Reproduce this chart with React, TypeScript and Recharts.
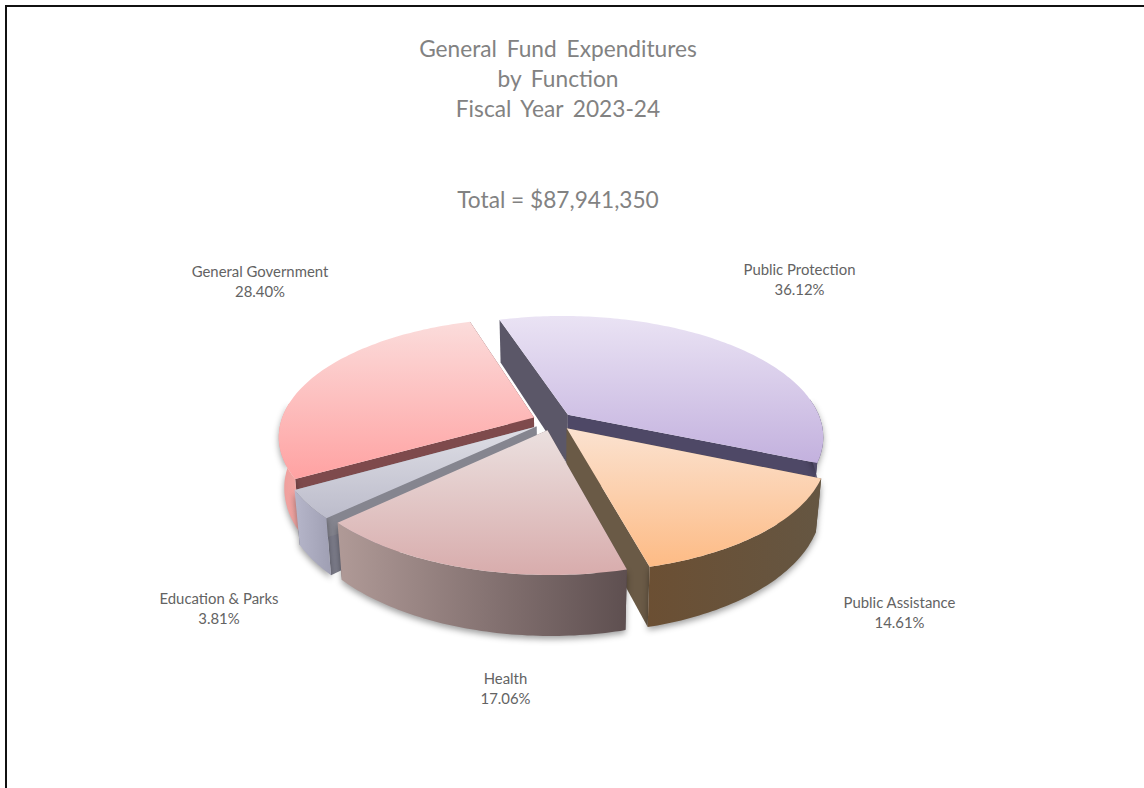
import React from "react";
import { PieChart, Pie } from "recharts";

// Drawn back to front: General Government, Public Protection, Public Assistance, Health, Education & Parks
const categories = ["General Government", "Public Protection", "Public Assistance", "Health", "Education & Parks"];
const shares = [28.4, 36.12, 14.61, 17.06, 3.81];
const shareLabels = ["28.40%", "36.12%", "14.61%", "17.06%", "3.81%"];
const titleLines = ["General Fund Expenditures", "by Function", "Fiscal Year 2023-24"];
const totalLine = "Total = $87,941,350";

const data = categories.map((name, i) => ({ name, value: shares[i], shareLabel: shareLabels[i] }));

const W = 1144, H = 788;
const CX = 553, CY = 421, R = 253;
const START = 90 - (-17 + 130.03 + 52.6 + 61.42 + 13.72); // clockwise from General Government's first edge
const TILT = 0.463, PERSP = 0.167, DEPTH = 50, BOTTOM_SCALE = 0.98, EXPLODE = 0.081, SHEAR = 0.015;
const FONT = "Lato, 'Open Sans', sans-serif";

const looks: Record<string, any> = {
  "General Government": { top: ["#FBDCDB", "#FFA2A2"], band: ["#EE9C9A", "#F3A9A6"], side0: "#7E4A4C", side1: "#7E4A4C" },
  "Public Protection": { top: ["#EAE3F4", "#C3B1DE"], band: ["#5A5470", "#4E4866"], side0: "#5B5768", side1: "#4E4866" },
  "Public Assistance": { top: ["#FBE2D0", "#FDBB85"], band: ["#6B4F33", "#655642"], side0: "#6A5A46", side1: "#6A5A46" },
  "Health": { top: ["#EBE0DF", "#D8ACAC"], band: ["#B09A97", "#5E4F50"], side0: "#5E4F50", side1: "#8A7070" },
  "Education & Parks": { top: ["#DEDEE5", "#BCBCCB"], band: ["#B6B6CA", "#9F9FB3"], side0: "#7C7C8A", side1: "#85858F" },
};

const labelCentres: Record<string, [number, number]> = {
  "General Government": [260, 273],
  "Public Protection": [799.5, 271],
  "Public Assistance": [899.5, 604],
  "Health": [505.5, 680],
  "Education & Parks": [219, 600],
};

const rad = (d: number) => (d * Math.PI) / 180;

// Projects a point of the tilted disc; (u, v) are in radius units, z is 0 on top and 1 at the base.
function project(cx: number, cy: number, r: number, u: number, v: number, z: number): [number, number] {
  const w = 1 - PERSP * v;
  const scale = z ? BOTTOM_SCALE : 1;
  return [cx + ((r * (u + SHEAR * v)) / w) * scale, cy + (r * TILT * v) / w + (z * DEPTH) / w];
}

function geometry(p: any) {
  const { cx, cy, outerRadius: r, startAngle, endAngle, midAngle } = p;
  const ou = EXPLODE * Math.cos(rad(midAngle));
  const ov = -EXPLODE * Math.sin(rad(midAngle));
  // minV drops the far part of the rim, which the top face hides anyway
  const arc = (z: number, minV = -Infinity) => {
    const pts: [number, number][] = [];
    const n = Math.max(8, Math.ceil(Math.abs(endAngle - startAngle)));
    for (let i = 0; i <= n; i++) {
      const a = rad(startAngle + ((endAngle - startAngle) * i) / n);
      if (-Math.sin(a) < minV) continue;
      pts.push(project(cx, cy, r, Math.cos(a) + ou, -Math.sin(a) + ov, z));
    }
    return pts;
  };
  const apex = (z: number) => project(cx, cy, r, ou, ov, z);
  return { arc, apex };
}

const path = (pts: [number, number][]) =>
  "M" + pts.map((q) => `${q[0].toFixed(1)},${q[1].toFixed(1)}`).join("L") + "Z";

const gid = (name: string, kind: string) => kind + name.replace(/[^A-Za-z]/g, "");

function SideWalls(p: any) {
  const { arc, apex } = geometry(p);
  const look = looks[p.name];
  const t = arc(0), b = arc(1);
  return (
    <g>
      <path d={path([apex(0), t[0], b[0], apex(1)])} fill={look.side0} />
      <path d={path([apex(0), t[t.length - 1], b[b.length - 1], apex(1)])} fill={look.side1} />
    </g>
  );
}

function OuterWall(p: any) {
  const { arc } = geometry(p);
  const look = looks[p.name];
  const id = gid(p.name, "band");
  return (
    <g style={{ filter: "drop-shadow(0px 3px 3px rgba(0,0,0,0.38))" }}>
      <defs>
        <linearGradient id={id} x1="0" y1="0" x2="1" y2="0">
          <stop offset="0" stopColor={look.band[0]} />
          <stop offset="1" stopColor={look.band[1]} />
        </linearGradient>
      </defs>
      <path d={path([...arc(0, -0.14), ...arc(1, -0.14).reverse()])} fill={`url(#${id})`} />
    </g>
  );
}

function TopFace(p: any) {
  const { arc, apex } = geometry(p);
  const look = looks[p.name];
  const id = gid(p.name, "top");
  return (
    <g>
      <defs>
        <linearGradient id={id} x1="0" y1="0" x2="0" y2="1">
          <stop offset="0" stopColor={look.top[0]} />
          <stop offset="1" stopColor={look.top[1]} />
        </linearGradient>
      </defs>
      <path d={path([apex(0), ...arc(0)])} fill={`url(#${id})`} />
    </g>
  );
}

function SliceLabel(p: any) {
  const [x, y] = labelCentres[p.name];
  return (
    <text x={x} y={y} textAnchor="middle" dominantBaseline="middle" fontFamily={FONT} fontSize={14.9} fill="#636363">
      <tspan x={x} y={y}>{p.name}</tspan>
      <tspan x={x} y={y + 20}>{p.payload.shareLabel}</tspan>
    </text>
  );
}

const pieProps = {
  data,
  dataKey: "value",
  nameKey: "name",
  cx: CX,
  cy: CY,
  innerRadius: 0,
  outerRadius: R,
  startAngle: START,
  endAngle: START - 360,
  stroke: "none",
  isAnimationActive: false,
} as const;

export default function App() {
  return (
    <div style={{ position: "absolute", left: 0, top: 0, width: W, height: H, overflow: "hidden", background: "#fff" }}>
      <div style={{ position: "absolute", left: 5, top: 5, width: W, height: H, borderLeft: "2px solid #111", borderTop: "2px solid #111" }} />
      <div style={{ position: "absolute", left: 0, top: 0 }}>
        <PieChart width={W} height={H} margin={{ top: 0, right: 0, bottom: 0, left: 0 }}>
          <Pie {...pieProps} shape={SideWalls} />
          <Pie {...pieProps} shape={OuterWall} />
          <Pie {...pieProps} shape={TopFace} label={SliceLabel} labelLine={false} />
          {titleLines.map((line, i) => (
            <text key={line} x={558} y={51.5 + i * 30} textAnchor="middle" dominantBaseline="middle" fontFamily={FONT} fontSize={22.7} fill="#828282" style={{ wordSpacing: 4 }}>
              {line}
            </text>
          ))}
          <text x={558} y={202.5} textAnchor="middle" dominantBaseline="middle" fontFamily={FONT} fontSize={22.7} fill="#828282">
            {totalLine}
          </text>
        </PieChart>
      </div>
    </div>
  );
}
